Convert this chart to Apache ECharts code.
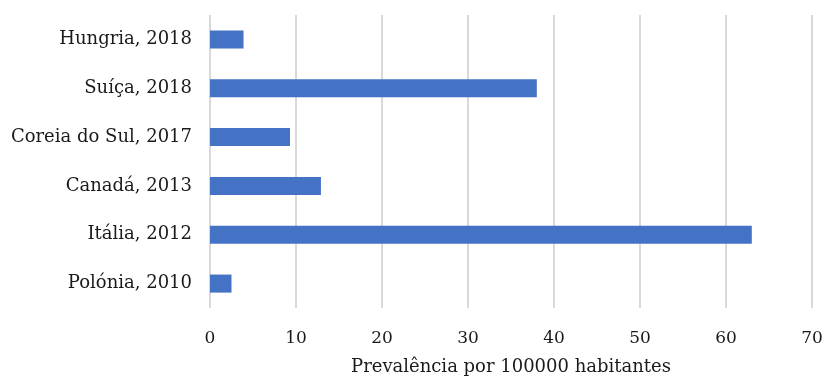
<!DOCTYPE html>
<html>
<head>
<meta charset="utf-8">
<script src="https://cdn.jsdelivr.net/npm/echarts@6/dist/echarts.min.js"></script>
<style>
  html, body { margin: 0; padding: 0; background: #fff; }
  #chart { width: 824px; height: 376px; }
</style>
</head>
<body>
<div id="chart"></div>
<script>
// Countries and survey years, listed bottom to top as the category axis draws them
const categories = ['Polónia, 2010', 'Itália, 2012', 'Canadá, 2013', 'Coreia do Sul, 2017', 'Suíça, 2018', 'Hungria, 2018'];
// Prevalence per 100 000 inhabitants
const prevalence = [2.5, 63.0, 12.9, 9.3, 38.0, 3.9];
const axisTitle = 'Prevalência por 100000 habitantes';

const FONT = '"DejaVu Serif", serif';
const chart = echarts.init(document.getElementById('chart'));
chart.setOption({
  animation: false,
  textStyle: { fontFamily: FONT },
  grid: {
    left: 210, right: 12, top: 15, bottom: 68,
    containLabel: false,
    outerBoundsMode: 'none'
  },
  xAxis: {
    type: 'value',
    min: 0, max: 70, interval: 10,
    name: axisTitle,
    nameLocation: 'middle',
    nameGap: 50,
    nameTextStyle: { fontFamily: FONT, fontSize: 18, color: '#1a1a1a' },
    axisLine: { show: false },
    axisTick: { show: false },
    axisLabel: { fontFamily: FONT, fontSize: 17, color: '#1a1a1a', margin: 22 },
    splitLine: { show: true, lineStyle: { color: '#d9d9d9', width: 2 } }
  },
  yAxis: {
    type: 'category',
    data: categories,
    axisLine: { show: false },
    axisTick: { show: false },
    axisLabel: { fontFamily: FONT, fontSize: 18, color: '#1a1a1a', margin: 18 }
  },
  series: [{
    type: 'bar',
    data: prevalence,
    barCategoryGap: '63%',
    itemStyle: { color: '#4472c4' }
  }]
});
</script>
</body>
</html>
